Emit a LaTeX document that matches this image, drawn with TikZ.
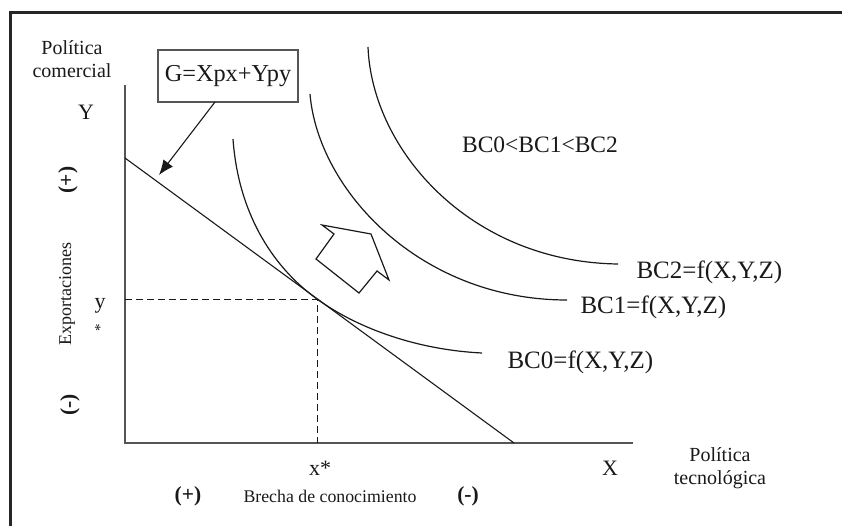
\documentclass[tikz,border=0pt]{standalone}
\usepackage{fontspec}
\setmainfont{Liberation Serif}
\usetikzlibrary{arrows.meta}
\definecolor{frame}{RGB}{38,38,38}
\definecolor{axis}{RGB}{85,85,85}
\definecolor{ink}{RGB}{25,25,25}
\newcommand{\fsz}[2]{\fontsize{#1}{#2}\selectfont}

\begin{document}
\begin{tikzpicture}[x=1pt, y=-1pt, line width=1.1pt, ink,
  lbl/.style={inner sep=0pt, font=\fsz{25}{28}},
  axlbl/.style={inner sep=0pt, font=\fsz{22}{25}},
  side/.style={inner sep=0pt, align=center, font=\fsz{20}{23.5}},
  sign/.style={inner sep=0pt, font=\fsz{21.5}{24}},
  guide/.style={line width=1pt, dash pattern=on 7pt off 4pt},
  curve/.style={line width=1.2pt}]
  \useasboundingbox (0,0) rectangle (842,526);

  % ---------- frame ----------
  \draw[frame, line width=3pt] (10,532) -- (10,13) -- (848,13);

  % ---------- axes and budget line ----------
  \coordinate (o)     at (125,443);
  \coordinate (ytop)  at (125,85);
  \coordinate (xend)  at (633,443);
  \coordinate (ga)    at (125,158);
  \coordinate (gb)    at (514,443);
  \coordinate (opt)   at (317,299);
  \coordinate (ymark) at (125,299);
  \coordinate (xmark) at (317,443);
  \draw[axis, line width=1.3pt] (ytop) -- (o) -- (xend);
  \draw (ga) -- (gb);
  \draw[guide] (ymark) -- (opt) -- (xmark);

  % ---------- indifference curves ----------
  \draw[curve] (233,139) .. controls (238,210) and (270,265) .. (opt)
               .. controls (360,330) and (420,350) .. (482,353);
  \draw[curve] (310,94) .. controls (318,190) and (420,300) .. (567,300);
  \draw[curve] (368,47) .. controls (372,150) and (470,262) .. (618,264);

  % ---------- block arrow ----------
  \draw[curve, line join=miter] (322,225) -- (371,234) -- (389,280) -- (377,271)
        -- (359,293) -- (316,259) -- (334,234) -- cycle;

  % ---------- budget label ----------
  \node[draw, axis, text=ink, line width=1.2pt, minimum width=140pt, minimum height=52pt,
        inner sep=0pt, font=\fsz{24.3}{27}] (gbox) at (228,76) {G=Xpx+Ypy};
  \coordinate (gfoot) at (215,102);
  \coordinate (gtip)  at (159,175);
  \draw[-{Latex[length=15pt,width=12pt]}] (gfoot) -- (gtip);

  % ---------- curve labels ----------
  \node[lbl, anchor=west] (bc2) at (636,272) {BC2=f(X,Y,Z)};
  \node[lbl, anchor=west] (bc1) at (580,307) {BC1=f(X,Y,Z)};
  \node[lbl, anchor=west] (bc0) at (507,362) {BC0=f(X,Y,Z)};
  \node[lbl, font=\fsz{23.5}{26}] (order) at (540,145) {BC0<BC1<BC2};

  % ---------- axis labels ----------
  \node[side] (ypol) at (72,59) {Política\\comercial};
  \node[axlbl] (ylab) at (86,112) {Y};
  \node[axlbl] (xlab) at (610,468) {X};
  \node[side] (xpol) at (720,468) {Política\\tecnológica};
  \node[axlbl] (xstar) at (320,468) {x*};
  \node[axlbl] (ystar) at (100,306) {y};
  \node[sign, rotate=90, font=\fsz{15}{16}] (ystarmark) at (100,328) {*};
  \node[side, rotate=90, font=\fsz{18}{20}] (expo) at (67,294) {Exportaciones};
  \node[sign, rotate=90] (yplus)  at (68,180) {\textbf{(+)}};
  \node[sign, rotate=90] (yminus) at (70,405) {\textbf{(-)}};
  \node[sign] (xplus)  at (188,496) {\textbf{(+)}};
  \node[side, font=\fsz{17.8}{20}] (brecha) at (330,496) {Brecha de conocimiento};
  \node[sign] (xminus) at (468,496) {\textbf{(-)}};

\end{tikzpicture}
\end{document}
